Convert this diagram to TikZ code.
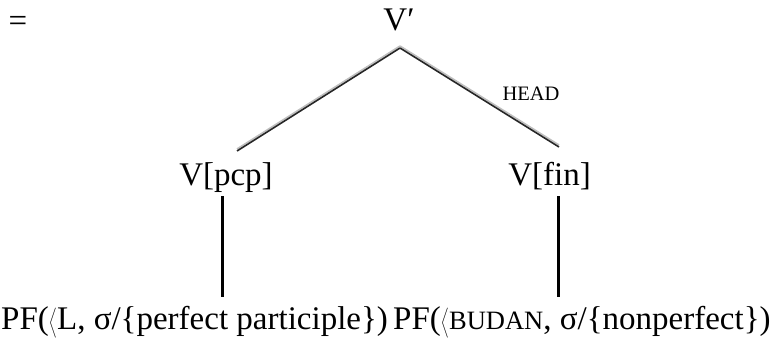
\documentclass[tikz,border=0pt]{standalone}
\usepackage{fontspec}
\setmainfont{Liberation Serif}
\tikzset{
  lbl/.style={inner sep=0pt, anchor=base, font=\fontsize{33}{40}\selectfont},
  lblw/.style={lbl, anchor=base west},
  headlbl/.style={inner sep=0pt, anchor=base, font=\fontsize{20.5}{24}\selectfont},
  branch/.style={line width=1.6pt, black!85},
  branchshadow/.style={line width=1.6pt, black!25},
  stem/.style={line width=3.3pt, black}
}
\newcommand{\smc}[1]{{\fontsize{26.5}{30}\selectfont #1}}
\newcommand{\lang}{\(\left\langle\vrule height 24pt depth 6pt width 0pt\right.\kern-1pt\)}
\begin{document}
\begin{tikzpicture}[x=1pt,y=-1pt]
\useasboundingbox (0,0) rectangle (776,338);
\node[lbl] (eq) at (18,31) {=};
\node[lbl] (vbar) at (399,30) {V′};
\coordinate (apex) at (400,48);
\coordinate (lend) at (237,151);
\coordinate (rend) at (559,147);
\draw[branchshadow] ([yshift=2]apex) -- ([yshift=2]lend);
\draw[branchshadow] ([yshift=2]apex) -- ([yshift=2]rend);
\draw[branch] (apex) -- (lend);
\draw[branch] (apex) -- (rend);
\node[headlbl] (head) at (531,100) {HEAD};
\node[lbl] (pcp) at (226,185) {V[pcp]};
\node[lbl] (fin) at (549.5,185) {V[fin]};
\coordinate (ltop) at (222.5,196);
\coordinate (lbot) at (222.5,297);
\coordinate (rtop) at (558.5,196);
\coordinate (rbot) at (558.5,297);
\draw[stem] (ltop) -- (lbot);
\draw[stem] (rtop) -- (rbot);
\node[lblw] (pfl) at (1,329) {PF(\lang L, σ/\{perfect participle\})};
\node[lblw] (pfr) at (393,329) {PF(\lang\smc{BUDAN}, σ/\{nonperfect\})};
\end{tikzpicture}
\end{document}
